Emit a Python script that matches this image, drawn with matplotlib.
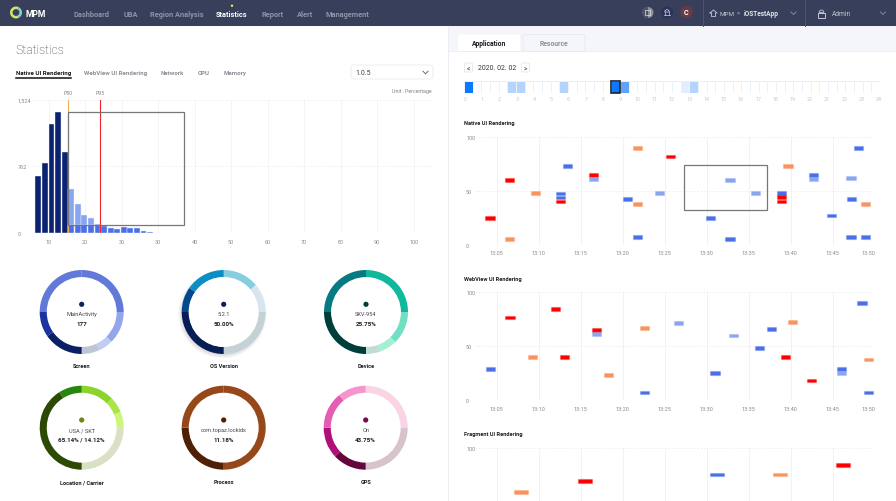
"""
Statistics dashboard: response histogram, donut summaries and rendering heat maps.

Everything is placed on a 896 x 502 pixel page, so px_axes takes page pixels.
"""

import matplotlib.pyplot as plt
import numpy as np
from matplotlib.colors import ListedColormap
from matplotlib.patches import Circle, FancyBboxPatch, Rectangle, Wedge

plt.rcParams["font.family"] = ["Roboto", "DejaVu Sans"]

nav_labels = ["Dashboard", "UBA", "Region Analysis", "Statistics", "Report", "Alert", "Management"]
tab_labels = ["Native UI Rendering", "WebView UI Rendering", "Network", "CPU", "Memory"]

hist_centers = [7.2, 9.0, 10.8, 12.6, 14.4, 16.2, 18.0, 19.8, 21.6, 23.4, 25.2, 27.0, 28.8,
                30.6, 32.4, 34.2, 36.0, 37.8]
hist_counts = [654, 798, 1243, 1383, 927, 502, 327, 205, 167, 99, 84, 53, 49, 65, 53, 53, 27, 8]
hist_tick_labels = ["10", "20", "30", "30", "40", "50", "60", "70", "80", "90", "100"]
hist_ticks = [10, 20, 30, 40, 50, 60, 70, 80, 90, 100, 110]

hour_levels = [3, 0, 0, 0, 0, 1, 1, 0, 0, 0, 0, 1, 0, 0, 0, 0, 0, 3, 2, 0, 0, 0, 0, 0,
               0, 4, 1, 0, 0, 0, 0, 0, 0, 0, 0, 0, 0, 0, 0, 0, 0, 0, 0, 0, 0, 0, 0, 0]

native_times = [4.2, 6.5, 6.5, 9.6, 12.6, 12.6, 12.6, 13.4, 16.5, 16.5, 20.6, 21.8, 21.8, 21.8,
                24.4, 25.7, 30.5, 32.8, 32.8, 35.8, 38.9, 38.9, 38.9, 39.7, 42.7, 42.7, 44.9,
                47.2, 47.3, 48.9, 48.1, 47.2, 48.9]
native_values = [25, 60, 5.5, 48, 47.5, 43.7, 40, 73, 65, 61, 42.5, 90, 38, 7.4,
                 48, 82, 25, 60, 5.5, 48, 48, 44, 40, 73, 65, 61, 27,
                 62, 42.5, 38, 90, 7.4, 7.4]
native_kinds = ["r", "r", "o", "o", "b", "b", "r", "b", "r", "l", "b", "o", "o", "b",
                "l", "r", "b", "l", "b", "l", "b", "r", "r", "o", "b", "l", "b",
                "l", "b", "o", "b", "b", "b"]

webview_times = [4.3, 6.6, 9.3, 12.0, 13.1, 16.9, 16.9, 18.3, 22.6, 22.6, 26.7, 31.0, 33.2, 36.3,
                 37.7, 40.2, 39.4, 42.5, 46.1, 46.1, 49.3, 48.5, 49.3]
webview_values = [28.5, 76.5, 40, 84.5, 40, 65, 61, 23, 67, 7, 71.5, 25, 60, 48,
                  66, 72.5, 40, 18, 28.5, 25, 37.5, 90, 7]
webview_kinds = ["b", "r", "o", "r", "r", "r", "l", "o", "o", "b", "l", "b", "l", "b",
                 "b", "o", "r", "r", "b", "l", "o", "b", "b"]

fragment_times = [7.85, 15.5, 31.2, 38.7, 46.3]
fragment_values = [59.4, 69.4, 75.5, 75.5, 84]
fragment_kinds = ["o", "r", "b", "o", "r"]

time_ticks = [5, 10, 15, 20, 25, 30, 35, 40, 45]
time_labels = ["13:05", "13:10", "13:15", "13:20", "13:25", "13:30", "13:35", "13:40", "13:45"]

screen_shares = [90, 45, 20, 25, 55, 35, 90]
os_shares = [50, 40, 90, 90, 35, 55]
device_shares = [90, 46, 24, 20, 90, 90]
location_shares = [46, 22, 22, 90, 148, 32]
process_shares = [180, 90, 90]
gps_shares = [90, 90, 47, 43, 51, 39]

KIND_COLORS = {"r": "#ff0000", "o": "#f8935f", "b": "#4a6fe6", "l": "#8aa5f0"}


def px_axes(left, top, right, bottom, **kwargs):
    """
    Add axes whose box is given in page pixels, measured from the top left.

    Parameters
    ----------
    left, top, right, bottom : float
        Edges of the axes box.
    """
    return plt.axes([left / 896, 1 - bottom / 502, (right - left) / 896, (bottom - top) / 502],
                    **kwargs)


def chevron(x, y, color="#8f95a8"):
    """Draw a small down arrow centred on x, y."""
    plt.plot([x - 2.6, x, x + 2.6], [y - 1.3, y + 1.3, y - 1.3], color=color, linewidth=0.6)


def plot_page():
    """Draw the header, tabs and every plain label on a page-sized axes."""
    ax = px_axes(0, 0, 896, 502)
    plt.xlim(0, 896)
    plt.ylim(502, 0)
    plt.axis("off")

    # Bands
    ax.add_patch(Rectangle((448, 27), 448, 25, color="#f5f6fa", linewidth=0))
    ax.add_patch(Rectangle((0, 0), 896, 27, color="#373f5a", linewidth=0))
    plt.plot([447.5, 447.5], [27, 502], color="#eceef3", linewidth=0.8)
    plt.plot([448, 896], [52, 52], color="#e9ebf1", linewidth=0.6)

    # Logo and navigation
    ax.add_patch(Wedge((16, 13.5), 6, 60, 300, width=2.6, color="#cfe36a", linewidth=0))
    ax.add_patch(Wedge((16, 13.5), 6, 300, 60, width=2.6, color="#7fd6c8", linewidth=0))
    plt.text(26, 14.5, "MPM", color="white", fontsize=6.2, fontweight="bold", va="center")
    for label, x in zip(nav_labels, [91, 131, 176.5, 232, 272.5, 305, 347]):
        selected = label == "Statistics"
        plt.text(x, 15, label, ha="center", va="center", fontsize=5.3, fontweight="bold",
                 color="white" if selected else "#8f95a8")
    ax.add_patch(Circle((232, 6.7), 1.2, color="#f1ee5a", linewidth=0))

    # Header tools
    ax.add_patch(Circle((648, 13.5), 5.5, color="#8d909d", linewidth=0))
    ax.add_patch(Wedge((648, 13.5), 5.5, 90, 270, color="#4c5369", linewidth=0))
    ax.add_patch(Rectangle((644.5, 11), 5.5, 5, fill=False, edgecolor="#e3e4e9", linewidth=0.5))
    ax.add_patch(Circle((667, 13.5), 6, color="#2b3358", linewidth=0))
    ax.add_patch(Wedge((667, 13), 2.3, 180, 360, fill=False, edgecolor="#d3d5de", linewidth=0.5))
    plt.plot([664.2, 669.8], [15.7, 15.7], color="#d3d5de", linewidth=0.5)
    plt.plot([664.7, 664.7], [13, 15.7], color="#d3d5de", linewidth=0.5)
    plt.plot([669.3, 669.3], [13, 15.7], color="#d3d5de", linewidth=0.5)
    ax.add_patch(Circle((686.5, 13), 6, color="#6b3b43", linewidth=0))
    plt.text(686.5, 13.3, "C", color="white", fontsize=5.3, fontweight="bold",
             ha="center", va="center")
    plt.plot([702.5, 702.5], [0, 27], color="#4d5470", linewidth=0.7)
    plt.plot([804.5, 804.5], [0, 27], color="#4d5470", linewidth=0.7)
    plt.plot([710, 713.5, 717, 715.5, 715.5, 711.5, 711.5, 710],
             [14, 11, 14, 14, 17.5, 17.5, 14, 14], color="#c4c7d2", linewidth=0.6)
    plt.text(720, 14.5, "MPM", color="#c4c7d2", fontsize=4.6, va="center")
    plt.text(738.5, 14.5, ">", color="#c4c7d2", fontsize=4.2, va="center", ha="center")
    plt.text(744, 14.5, "iOSTestApp", color="#e3e5ea", fontsize=4.7, fontweight="bold", va="center")
    chevron(793.5, 14.2)
    ax.add_patch(Rectangle((818, 13.5), 7, 5, fill=False, edgecolor="#c4c7d2", linewidth=0.7))
    ax.add_patch(Wedge((821.5, 13.5), 2.4, 180, 360, fill=False, edgecolor="#c4c7d2", linewidth=0.6))
    plt.text(832, 14.5, "Admin", color="#c4c7d2", fontsize=4.8, va="center")
    chevron(883, 14.2)

    # Left heading
    plt.text(15, 50, "Statistics", color="#3a3d45", fontsize=8.8, fontweight="light", va="center")
    tab_x = [15.5, 84, 160.5, 198, 224]
    for i, (label, x) in enumerate(zip(tab_labels, tab_x)):
        plt.text(x, 73.5, label, va="center", fontsize=4.45, fontweight="bold",
                 color="#17191f" if i == 0 else "#8c8f98")
    plt.plot([15.5, 70.5], [79.3, 79.3], color="#111111", linewidth=1.1)
    ax.add_patch(FancyBboxPatch((351, 66), 82, 14, boxstyle="round,pad=0,rounding_size=2.5",
                                facecolor="white", edgecolor="#eceef2", linewidth=0.7))
    plt.text(355.5, 73.3, "1.0.5", color="#40434b", fontsize=5, va="center")
    chevron(425.5, 73.5, "#555963")
    plt.text(432, 92, "Unit : Percentage", color="#808389", fontsize=3.8, ha="right", va="center")

    # Right heading
    ax.add_patch(FancyBboxPatch((458, 35.5), 62, 18, boxstyle="round,pad=0,rounding_size=2",
                                facecolor="white", edgecolor="none"))
    ax.add_patch(FancyBboxPatch((523, 35.5), 62, 17, boxstyle="round,pad=0,rounding_size=2",
                                facecolor="#f5f6fa", edgecolor="#e7e9ef", linewidth=0.6))
    plt.text(489, 44.5, "Application", color="#17191f", fontsize=4.9, fontweight="bold",
             ha="center", va="center")
    plt.text(554, 44.5, "Resource", color="#8c8f98", fontsize=4.9, fontweight="bold",
             ha="center", va="center")
    for x, mark in zip([468.5, 525.5], ["<", ">"]):
        ax.add_patch(FancyBboxPatch((464.5 if mark == "<" else 521.5, 64), 8, 9,
                                    boxstyle="round,pad=0,rounding_size=1",
                                    facecolor="white", edgecolor="#e3e5ea", linewidth=0.6))
        plt.text(x, 68.3, mark, color="#5d6a7a", fontsize=4.8, fontweight="bold",
                 ha="center", va="center")
    plt.text(477.5, 68.7, "2020. 02. 02", color="#33363d", fontsize=5, va="center")
    for label, y in zip(["Native UI Rendering", "WebView UI Rendering", "Fragment UI Rendering"],
                        [124, 279.5, 435]):
        plt.text(464, y, label, color="#1d1f25", fontsize=4.05, fontweight="bold", va="center")


def plot_histogram():
    """Plot the count histogram with its percentile lines and selection box."""
    ax = px_axes(33, 100.5, 433, 234, facecolor="none")
    plt.vlines(hist_ticks, 0, 1524, color="#f3f4f6", linewidth=0.7, zorder=0)
    plt.hlines([762, 1524], 5.75, 115.3, color="#dcdee2", linewidth=0.6,
               linestyles=(0, (1, 2.5)), zorder=0)
    plt.hlines(0, 5.75, 115.3, color="#dcdee2", linewidth=0.6,
               linestyles=(0, (1, 2.5)), zorder=0)

    # Bars left of P50 are dark, the ones after it are shaded by the box edge
    centers = np.array(hist_centers)
    counts = np.array(hist_counts)
    colors = ["#0b2270" if c < 15.3 else "#8aa5f0" for c in centers]
    plt.bar(centers, counts, width=1.6, color=colors, edgecolor="#f1f4fd", linewidth=0.3)
    inside = centers > 15.3
    plt.bar(centers[inside], np.minimum(counts[inside], 91), width=1.6, color="#4a6fe6",
            edgecolor="#f1f4fd", linewidth=0.3)

    plt.axvline(15.27, color="#f0b056", linewidth=0.8)
    plt.axvline(24.1, color="#f5222f", linewidth=0.8)
    plt.text(15.27, 1570, "P50", color="#85888e", fontsize=3.8, ha="center", va="bottom")
    plt.text(24.1, 1570, "P95", color="#85888e", fontsize=3.8, ha="center", va="bottom")
    ax.add_patch(Rectangle((15.27, 91), 31.7, 1292, fill=False, edgecolor="#777777",
                           linewidth=0.9, zorder=4))

    plt.xlim(5.75, 115.3)
    plt.ylim(0, 1524)
    plt.xticks(hist_ticks, hist_tick_labels, color="#888b91", fontsize=4)
    plt.yticks([0, 762, 1524], ["0", "762", "1,524"], color="#888b91", fontsize=4, ha="left")
    plt.tick_params(axis="both", length=0)
    plt.tick_params(axis="x", pad=4.5)
    plt.tick_params(axis="y", pad=11.2)
    for side in ax.spines.values():
        side.set_visible(False)


def plot_hours():
    """Plot the half-hour activity strip under the date picker."""
    ax = px_axes(464, 82.3, 880, 93.7, facecolor="none")
    cmap = ListedColormap(["#ffffff", "#b3d4fb", "#5fa4f8", "#0a7bff", "#e0eefd"])
    plt.pcolormesh(np.arange(49) / 2, [0, 1], [hour_levels], cmap=cmap, vmin=-0.5, vmax=4.5,
                   edgecolors="#e9f1fa", linewidth=0.4)
    ax.add_patch(Rectangle((8.5, 0), 0.5, 1, fill=False, edgecolor="#1c2230", linewidth=1.2,
                           zorder=5, clip_on=False))
    plt.xlim(0, 24)
    plt.ylim(0, 1)
    plt.xticks(np.linspace(0.07, 23.93, 25), [str(h) for h in range(25)],
               color="#c6c8cc", fontsize=3.9)
    plt.yticks([])
    plt.tick_params(axis="x", length=0, pad=2.4)
    for side in ax.spines.values():
        side.set_visible(False)


def plot_rendering(times, values, kinds, top, bottom, y_min=0, width=1.1, labels=True):
    """
    Plot one rendering heat map as short horizontal marks.

    Parameters
    ----------
    times, values : list
        Minutes after 13:00 and the rendering value of each mark.
    kinds : list
        Colour key of each mark.
    top, bottom : float
        Page pixels of the axes box.
    y_min : float
        Value shown at the bottom edge.
    width : float
        Mark length in minutes.
    labels : bool
        Whether the time axis has its labels.
    """
    ax = px_axes(476, top, 872, bottom, facecolor="none")
    plt.vlines(time_ticks, y_min, 100, color="#f1f2f4", linewidth=0.7, zorder=0)
    grid = [v for v in [0, 50, 100] if v >= y_min]
    plt.hlines(grid, 2.54, 49.7, color="#dcdee2", linewidth=0.6,
               linestyles=(0, (1, 2.5)), zorder=0)

    colors = [KIND_COLORS[k] for k in kinds]
    edges = [(KIND_COLORS[k], 0.25) for k in kinds]
    plt.barh(values, width, height=3.4, left=np.array(times) - width / 2, color=colors,
             edgecolor=edges, linewidth=0.9, clip_on=False)

    plt.xlim(2.54, 49.7)
    plt.ylim(y_min, 100)
    if labels:
        plt.xticks(time_ticks + [49.25], time_labels + ["13:50"], color="#888b91", fontsize=4)
    else:
        plt.xticks([])
    plt.yticks(grid, [str(v) for v in grid], color="#888b91", fontsize=4, ha="left")
    plt.tick_params(axis="both", length=0)
    plt.tick_params(axis="x", pad=4)
    plt.tick_params(axis="y", pad=7.2)
    for side in ax.spines.values():
        side.set_visible(False)
    return ax


def plot_donut(cx, cy, shares, colors, dot, name, value, caption, shadow=False):
    """
    Plot one donut with its centre dot and three text lines.

    Parameters
    ----------
    cx, cy : float
        Centre in page pixels.
    shares : list
        Slice sizes, clockwise from twelve o'clock.
    colors : list
        Slice colours.
    dot : str
        Colour of the centre dot.
    name, value, caption : str
        Texts in the hole and under the ring.
    shadow : bool
        Whether the ring drops a soft shadow.
    """
    r = 42.0
    ax = px_axes(cx - r * 1.2, cy - r * 1.2, cx + r * 1.2, cy + r * 1.2, facecolor="none")
    if shadow:
        for grow in np.arange(0.97, 1.05, 0.02):
            ax.add_patch(Circle((-0.03, -0.05), grow, color="#20242c", alpha=0.03, linewidth=0))
    plt.pie(shares, colors=colors, startangle=90, counterclock=False, radius=1,
            wedgeprops={"width": 0.168, "linewidth": 0})
    if shadow:
        ax.add_patch(Circle((0, 0), 0.832, color="white", linewidth=0))
    ax.add_patch(Circle((0, 7.7 / r), 2.6 / r, color=dot, linewidth=0))
    plt.text(0, -2 / r, name, color="#45484f", fontsize=4.1, ha="center", va="center")
    plt.text(0, -11.7 / r, value, color="#1d1f25", fontsize=4.5, fontweight="bold",
             ha="center", va="center")
    plt.text(0, -54 / r, caption, color="#1d1f25", fontsize=4.05, fontweight="bold",
             ha="center", va="center")
    plt.xlim(-1.2, 1.2)
    plt.ylim(-1.2, 1.2)


plt.figure(figsize=(8.96, 5.02))
plot_page()
plot_histogram()

plot_donut(81.7, 313, screen_shares,
           ["#6279d9", "#93a6ec", "#c0ccf5", "#c0c5d6", "#0b1f66", "#1a35a0", "#6279d9"],
           "#0b1f66", "MainActivity", "177", "Screen")
plot_donut(223.7, 313, os_shares,
           ["#87cde0", "#d7e5f0", "#c4d2d7", "#061d55", "#03488a", "#0a8fc5"],
           "#0a1f5c", "5.2.1", "50.00%", "OS Version", shadow=True)
plot_donut(366, 313, device_shares,
           ["#10b89c", "#72dfc4", "#a3f0d4", "#c3dcd2", "#003e3b", "#067a82"],
           "#003e3b", "SKV-954", "25.75%", "Device")
plot_donut(81.7, 428.7, location_shares,
           ["#8ad42b", "#aae547", "#ccf57a", "#d9e0c6", "#2d4a05", "#28860c"],
           "#6d8a10", "USA / SKT", "65.14% / 14.12%", "Location / Carrier")
plot_donut(223.7, 428.7, process_shares,
           ["#97481a", "#4e2107", "#97481a"],
           "#4e2107", "com.topaz.lockids", "11.18%", "Process")
plot_donut(365.7, 428.7, gps_shares,
           ["#f9d4e4", "#d6c3cb", "#65073c", "#ae0f78", "#e55cb3", "#f794cd"],
           "#7a0a48", "On", "43.75%", "GPS")

plot_hours()
native_ax = plot_rendering(native_times, native_values, native_kinds, 138, 245.7)
native_ax.add_patch(Rectangle((27.33, 32), 9.87, 41.7, fill=False, edgecolor="#777777",
                              linewidth=0.9, zorder=4))
plot_rendering(webview_times, webview_values, webview_kinds, 293.3, 401)
plot_rendering(fragment_times, fragment_values, fragment_kinds, 449, 502, y_min=50.8,
               width=1.67, labels=False)

plt.savefig("out.png", dpi=100)
